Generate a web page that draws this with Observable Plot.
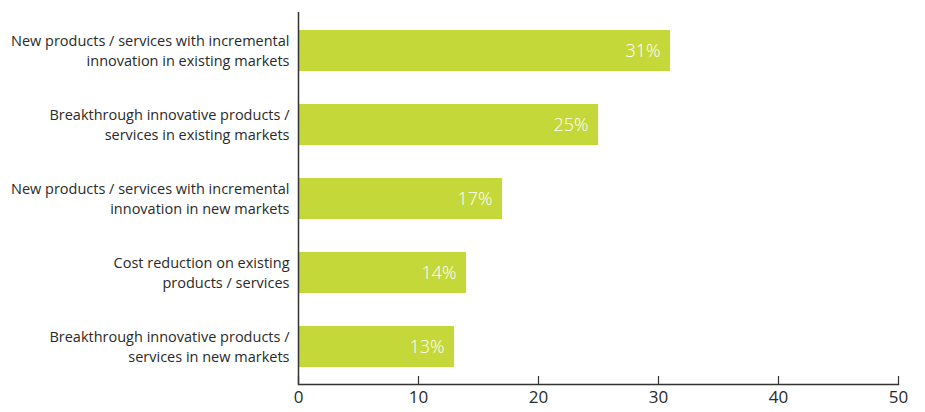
<!DOCTYPE html>
<html><head><meta charset="utf-8">
<script src="https://cdn.jsdelivr.net/npm/d3@7"></script>
<script src="https://cdn.jsdelivr.net/npm/@observablehq/plot@0.6"></script>
<style>
body{margin:0;background:#fff;}
#chart svg{display:block;}
</style>
</head><body><div id="chart"></div>
<script>
const categories = [
  "New products / services with incremental\ninnovation in existing markets",
  "Breakthrough innovative products /\nservices in existing markets",
  "New products / services with incremental\ninnovation in new markets",
  "Cost reduction on existing\nproducts / services",
  "Breakthrough innovative products /\nservices in new markets"
];
const values = [31, 25, 17, 14, 13];
const xTicks = [0, 10, 20, 30, 40, 50];

const data = categories.map((c, i) => ({category: c, value: values[i]}));

const chart = Plot.plot({
  width: 925,
  height: 412,
  marginLeft: 298,
  marginRight: 27,
  marginTop: 12,
  marginBottom: 28,
  style: {fontFamily: "'Open Sans', 'Noto Sans', sans-serif", background: "#fff"},
  x: {domain: [0, 50], ticks: xTicks},
  y: {domain: categories, paddingInner: 0.45, paddingOuter: 0.22, axis: null},
  marks: [
    Plot.barX(data, {x: "value", y: "category", fill: "#c4d83a"}),
    Plot.text(data, {x: "value", y: "category", text: d => d.value + "%", textAnchor: "end", dx: -10, fill: "#fff", fontSize: 18, fontWeight: 300}),
    Plot.text(data, {x: 0, y: "category", text: "category", textAnchor: "end", dx: -9, dy: -1, fill: "#2a2a2a", fontSize: 14.5, lineHeight: 1.38, fontWeight: 400}),
    Plot.frame({anchor: "bottom", stroke: "#333", strokeWidth: 1.5}),
    Plot.ruleX([0], {stroke: "#333", strokeWidth: 1.5}),
    Plot.axisX(xTicks, {tickSize: -8, tickPadding: 14, fontSize: 17, fill: "#2a2a2a", stroke: "#333", strokeWidth: 1.2, label: null, tickFormat: d => String(d)})
  ]
});
document.getElementById("chart").appendChild(chart);
</script>
</body></html>
